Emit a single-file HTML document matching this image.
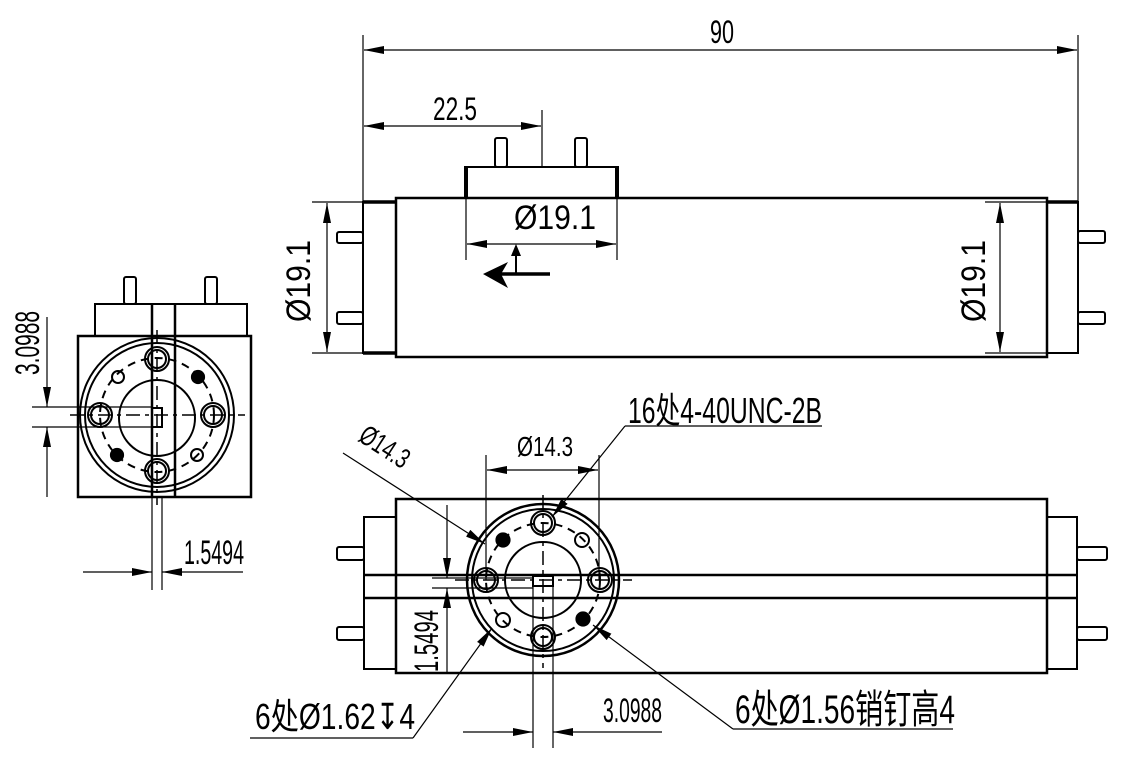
<!DOCTYPE html>
<html><head><meta charset="utf-8"><style>
html,body{margin:0;padding:0;background:#fff;}
svg{display:block;}
text{font-family:"Liberation Sans","Noto Sans CJK SC",sans-serif;fill:#000;}
</style></head><body>
<svg width="1124" height="761" viewBox="0 0 1124 761" xmlns="http://www.w3.org/2000/svg">
<defs>
<marker id="a" viewBox="0 0 20 8" refX="20" refY="4" markerWidth="20" markerHeight="8" markerUnits="userSpaceOnUse" orient="auto-start-reverse"><path d="M0,0 L20,4 L0,8 Z" fill="#000"/></marker>
</defs>
<g fill="none" stroke="#000" stroke-width="1.2">
<rect x="396" y="198" width="651" height="159" stroke-width="2.5"/>
<rect x="363" y="202" width="33" height="151" stroke-width="2"/>
<line x1="363" y1="202" x2="396" y2="202" stroke-width="3.5"/>
<line x1="363" y1="353" x2="396" y2="353" stroke-width="3.5"/>
<rect x="1047" y="202" width="31" height="151" stroke-width="2"/>
<line x1="1047" y1="202" x2="1078" y2="202" stroke-width="3.5"/>
<rect x="337" y="232" width="26" height="11" rx="2" stroke-width="2"/>
<rect x="337" y="312" width="26" height="12" rx="2" stroke-width="2"/>
<rect x="1078" y="231" width="27" height="12" rx="2" stroke-width="2"/>
<rect x="1078" y="312" width="27" height="12" rx="2" stroke-width="2"/>
<rect x="466" y="167" width="151" height="31" stroke-width="2"/>
<line x1="466" y1="166" x2="466" y2="198" stroke-width="4"/>
<line x1="617" y1="166" x2="617" y2="198" stroke-width="4"/>
<rect x="495" y="138" width="12" height="29" rx="2" stroke-width="2"/>
<rect x="575" y="138" width="12" height="29" rx="2" stroke-width="2"/>
<line x1="363" y1="35" x2="363" y2="202"/>
<line x1="1078" y1="35" x2="1078" y2="202"/>
<line x1="364" y1="50" x2="1077" y2="50" marker-start="url(#a)" marker-end="url(#a)"/>
<line x1="542" y1="110" x2="542" y2="166"/>
<line x1="364" y1="126" x2="541" y2="126" marker-start="url(#a)" marker-end="url(#a)"/>
<line x1="466" y1="198" x2="466" y2="260"/>
<line x1="617" y1="198" x2="617" y2="260"/>
<line x1="467" y1="244" x2="616" y2="244" marker-start="url(#a)" marker-end="url(#a)"/>
<line x1="500" y1="274" x2="550" y2="274" stroke-width="3.5"/>
<path d="M483,274 L508,262 L501,274 L508,288 Z" fill="#000" stroke="none"/>
<line x1="516" y1="274" x2="516" y2="252" stroke-width="2"/>
<path d="M516,244 L511,256 L521,256 Z" fill="#000" stroke="none"/>
<line x1="312" y1="202" x2="363" y2="202"/>
<line x1="312" y1="353" x2="363" y2="353"/>
<line x1="327" y1="203" x2="327" y2="352" marker-start="url(#a)" marker-end="url(#a)"/>
<line x1="985" y1="202" x2="1047" y2="202"/>
<line x1="985" y1="353" x2="1047" y2="353"/>
<line x1="1000" y1="203" x2="1000" y2="352" marker-start="url(#a)" marker-end="url(#a)"/>

<rect x="78" y="336" width="173" height="161" stroke-width="2.5"/>
<rect x="95" y="304" width="152" height="32" stroke-width="2"/>
<rect x="124" y="277" width="12" height="27" rx="2" stroke-width="2"/>
<rect x="205" y="277" width="12" height="27" rx="2" stroke-width="2"/>
<line x1="152" y1="304" x2="152" y2="497" stroke-width="2.5"/>
<line x1="175" y1="304" x2="175" y2="497" stroke-width="2.5"/>
<circle cx="157" cy="415" r="77" stroke-width="2"/>
<circle cx="157" cy="415" r="72" stroke-width="2"/>
<circle cx="157" cy="415" r="57" stroke-width="2" stroke-dasharray="8,6"/>
<circle cx="157" cy="418" r="38" stroke-width="2"/>
<line x1="70" y1="415" x2="245" y2="415" stroke-width="1.5" stroke-dasharray="14,5,4,5"/>
<line x1="157" y1="330" x2="157" y2="505" stroke-width="1.5" stroke-dasharray="14,5,4,5"/>
<rect x="152" y="408" width="10" height="19" stroke-width="2"/>
<g stroke-width="2">
<circle cx="100" cy="415" r="12"/><circle cx="100" cy="415" r="9"/>
<circle cx="213" cy="415" r="12"/><circle cx="213" cy="415" r="9"/>
<circle cx="157" cy="359" r="12"/><circle cx="157" cy="359" r="9"/>
<circle cx="157" cy="471" r="12"/><circle cx="157" cy="471" r="9"/>
<circle cx="118" cy="377" r="6"/>
<circle cx="197" cy="455" r="6"/>
</g>
<circle cx="198" cy="377" r="6.5" fill="#000"/>
<circle cx="117" cy="455" r="6.5" fill="#000"/>
<line x1="32" y1="407" x2="152" y2="407"/>
<line x1="32" y1="427" x2="152" y2="427"/>
<line x1="47" y1="317" x2="47" y2="407" marker-end="url(#a)"/>
<line x1="47" y1="497" x2="47" y2="427" marker-end="url(#a)"/>
<line x1="152" y1="497" x2="152" y2="590"/>
<line x1="162" y1="497" x2="162" y2="590"/>
<line x1="83" y1="572" x2="152" y2="572" marker-end="url(#a)"/>
<line x1="243" y1="572" x2="162" y2="572" marker-end="url(#a)"/>

<rect x="396" y="499" width="651" height="174" stroke-width="2.5"/>
<rect x="364" y="517" width="32" height="152" stroke-width="2"/>
<rect x="1047" y="517" width="30" height="152" stroke-width="2"/>
<rect x="337" y="547" width="27" height="13" rx="2" stroke-width="2"/>
<rect x="337" y="627" width="27" height="13" rx="2" stroke-width="2"/>
<rect x="1077" y="547" width="30" height="13" rx="2" stroke-width="2"/>
<rect x="1077" y="627" width="30" height="13" rx="2" stroke-width="2"/>
<line x1="364" y1="575" x2="1077" y2="575" stroke-width="2.5"/>
<line x1="364" y1="598" x2="1077" y2="598" stroke-width="2.5"/>
<circle cx="543" cy="580" r="76" stroke-width="2.5"/>
<circle cx="543" cy="580" r="71" stroke-width="2"/>
<circle cx="543" cy="580" r="57" stroke-width="2" stroke-dasharray="8,6"/>
<circle cx="543" cy="580" r="38" stroke-width="2"/>
<line x1="455" y1="580" x2="632" y2="580" stroke-width="1.5" stroke-dasharray="14,5,4,5"/>
<line x1="543" y1="495" x2="543" y2="668" stroke-width="1.5" stroke-dasharray="14,5,4,5"/>
<rect x="533" y="576" width="20" height="10" stroke-width="2"/>
<g stroke-width="2">
<circle cx="486" cy="580" r="12"/><circle cx="486" cy="580" r="9"/>
<circle cx="600" cy="580" r="12"/><circle cx="600" cy="580" r="9"/>
<circle cx="543" cy="523" r="12"/><circle cx="543" cy="523" r="9"/>
<circle cx="543" cy="637" r="12"/><circle cx="543" cy="637" r="9"/>
<circle cx="582" cy="540" r="7"/>
<circle cx="503" cy="620" r="7"/>
</g>
<circle cx="503" cy="540" r="7" fill="#000"/>
<circle cx="583" cy="619" r="7" fill="#000"/>
<line x1="486" y1="455" x2="486" y2="580"/>
<line x1="599" y1="455" x2="599" y2="580"/>
<line x1="487" y1="470" x2="598" y2="470" marker-start="url(#a)" marker-end="url(#a)"/>
<line x1="343" y1="453" x2="485" y2="544" marker-end="url(#a)"/>
<line x1="625" y1="426" x2="822" y2="426"/>
<line x1="625" y1="426" x2="552" y2="517" marker-end="url(#a)"/>
<line x1="432" y1="578" x2="533" y2="578"/>
<line x1="432" y1="588" x2="533" y2="588"/>
<line x1="447" y1="505" x2="447" y2="578" marker-end="url(#a)"/>
<line x1="447" y1="672" x2="447" y2="588" marker-end="url(#a)"/>
<line x1="533" y1="586" x2="533" y2="748"/>
<line x1="553" y1="586" x2="553" y2="748"/>
<line x1="463" y1="732" x2="533" y2="732" marker-end="url(#a)"/>
<line x1="662" y1="732" x2="553" y2="732" marker-end="url(#a)"/>
<line x1="250" y1="738" x2="413" y2="738"/>
<line x1="413" y1="738" x2="492" y2="628" marker-end="url(#a)"/>
<line x1="733" y1="729" x2="953" y2="729"/>
<line x1="733" y1="729" x2="593" y2="625" marker-end="url(#a)"/>
</g>

<text x="710" y="43" font-size="32" textLength="24" lengthAdjust="spacingAndGlyphs">90</text>
<text x="433" y="120" font-size="32" textLength="44" lengthAdjust="spacingAndGlyphs">22.5</text>
<text x="514" y="229" font-size="34" textLength="82" lengthAdjust="spacingAndGlyphs">Ø19.1</text>
<text transform="translate(310,322) rotate(-90)" font-size="34" textLength="82" lengthAdjust="spacingAndGlyphs">Ø19.1</text>
<text transform="translate(985,322) rotate(-90)" font-size="34" textLength="82" lengthAdjust="spacingAndGlyphs">Ø19.1</text>
<text transform="translate(39,375) rotate(-90)" font-size="34" textLength="64" lengthAdjust="spacingAndGlyphs">3.0988</text>
<text x="184" y="564" font-size="34" textLength="60" lengthAdjust="spacingAndGlyphs">1.5494</text>
<text x="517" y="456" font-size="28" textLength="56" lengthAdjust="spacingAndGlyphs">Ø14.3</text>
<text transform="translate(357,440) rotate(33)" font-size="28" textLength="54" lengthAdjust="spacingAndGlyphs">Ø14.3</text>
<text x="628" y="423" font-size="36" textLength="194" lengthAdjust="spacingAndGlyphs">16处4-40UNC-2B</text>
<text transform="translate(438,672) rotate(-90)" font-size="34" textLength="62" lengthAdjust="spacingAndGlyphs">1.5494</text>
<text x="603" y="722" font-size="34" textLength="59" lengthAdjust="spacingAndGlyphs">3.0988</text>
<text x="255" y="729" font-size="36" textLength="160" lengthAdjust="spacingAndGlyphs">6处Ø1.62↧4</text>
<text x="735" y="723" font-size="40" textLength="220" lengthAdjust="spacingAndGlyphs">6处Ø1.56销钉高4</text>
</svg>
</body></html>
